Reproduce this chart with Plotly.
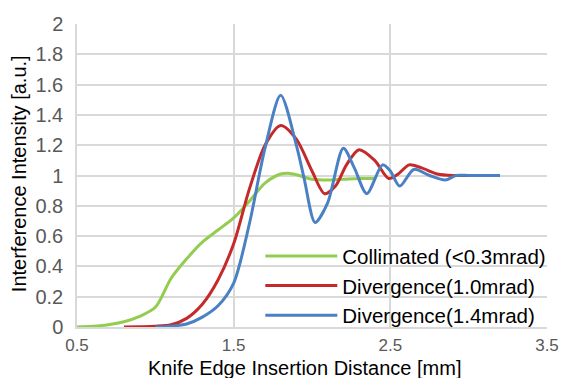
import plotly.graph_objects as go

# Collimated (<0.3mrad)
coll_x = [0.5, 0.6, 0.7, 0.8, 0.9, 1.0, 1.1, 1.2, 1.3, 1.4, 1.5, 1.6, 1.7, 1.8, 1.85, 1.9, 2.0, 2.1, 2.2, 2.3, 2.4]
coll_y = [0.0, 0.005, 0.015, 0.035, 0.07, 0.13, 0.32, 0.45, 0.56, 0.64, 0.72, 0.83, 0.95, 1.01, 1.015, 1.005, 0.975, 0.97, 0.975, 0.98, 0.98]

# Divergence(1.0mrad)
div10_x = [0.8, 0.9, 1.0, 1.1, 1.2, 1.3, 1.4, 1.5, 1.6, 1.7, 1.8, 1.9, 2.0, 2.08, 2.15, 2.22, 2.3, 2.4, 2.49, 2.55, 2.62, 2.7, 2.8, 2.9, 3.0]
div10_y = [0.0, 0.002, 0.005, 0.015, 0.057, 0.15, 0.31, 0.55, 0.91, 1.2, 1.33, 1.24, 1.03, 0.88, 0.93, 1.07, 1.17, 1.10, 0.98, 1.01, 1.07, 1.05, 1.01, 1.0, 1.0]

# Divergence(1.4mrad)
div14_x = [1.0, 1.1, 1.2, 1.3, 1.4, 1.5, 1.6, 1.7, 1.8, 1.9, 1.95, 2.02, 2.1, 2.2, 2.27, 2.35, 2.45, 2.5, 2.56, 2.65, 2.75, 2.85, 2.92, 3.0, 3.1, 3.2]
div14_y = [0.0, 0.005, 0.02, 0.065, 0.14, 0.29, 0.68, 1.18, 1.53, 1.2, 0.98, 0.69, 0.82, 1.18, 1.05, 0.88, 1.07, 1.03, 0.93, 1.04, 1.0, 0.97, 1.0, 1.0, 1.0, 1.0]

x_ticks = [0.5, 1.5, 2.5, 3.5]
y_ticks = [0, 0.2, 0.4, 0.6, 0.8, 1, 1.2, 1.4, 1.6, 1.8, 2]

FONT = "Liberation Sans, Arial, sans-serif"
GRID = "#d9d9d9"

fig = go.Figure()
series = [
    ("Collimated (<0.3mrad)", coll_x, coll_y, "#92cd50"),
    ("Divergence(1.0mrad)", div10_x, div10_y, "#c42a2a"),
    ("Divergence(1.4mrad)", div14_x, div14_y, "#4a80c4"),
]
for name, xs, ys, col in series:
    fig.add_trace(go.Scatter(x=xs, y=ys, name=name, mode="lines",
                             line=dict(color=col, width=3, shape="spline", smoothing=0.8)))

fig.update_layout(
    width=563, height=378,
    margin=dict(l=77, r=16, t=24, b=51, autoexpand=False),
    paper_bgcolor="white", plot_bgcolor="white",
    font=dict(family=FONT, size=20, color="#595959"),
    showlegend=True,
    legend=dict(x=0.39, y=0.30, xanchor="left", yanchor="top",
                bgcolor="rgba(0,0,0,0)", itemwidth=72, tracegroupgap=0,
                font=dict(family=FONT, size=20.5, color="black")),
    annotations=[
        dict(text="Knife Edge Insertion Distance [mm]", xref="paper", yref="paper",
             x=0.485, y=-0.136, xanchor="center", yanchor="middle", showarrow=False,
             font=dict(family=FONT, size=20, color="black")),
        dict(text="Interference Intensity [a.u.]", xref="paper", yref="paper",
             x=-0.123, y=0.505, xanchor="center", yanchor="middle", showarrow=False, textangle=-90,
             font=dict(family=FONT, size=20, color="black")),
    ],
)
fig.update_xaxes(range=[0.5, 3.5], tickvals=x_ticks, ticktext=[str(v) for v in x_ticks],
                 showgrid=True, gridcolor=GRID, gridwidth=1.5, zeroline=False,
                 showline=True, linecolor=GRID, linewidth=1.5, mirror=False,
                 ticks="", ticklabelstandoff=2, tickfont=dict(size=17))
fig.update_yaxes(range=[0, 2], tickvals=y_ticks, ticktext=[f"{v:g}" for v in y_ticks],
                 showgrid=True, gridcolor=GRID, gridwidth=1.5, zeroline=False,
                 showline=True, linecolor=GRID, linewidth=1.5,
                 ticks="", ticklabelstandoff=8)

fig.write_html("out.html")
